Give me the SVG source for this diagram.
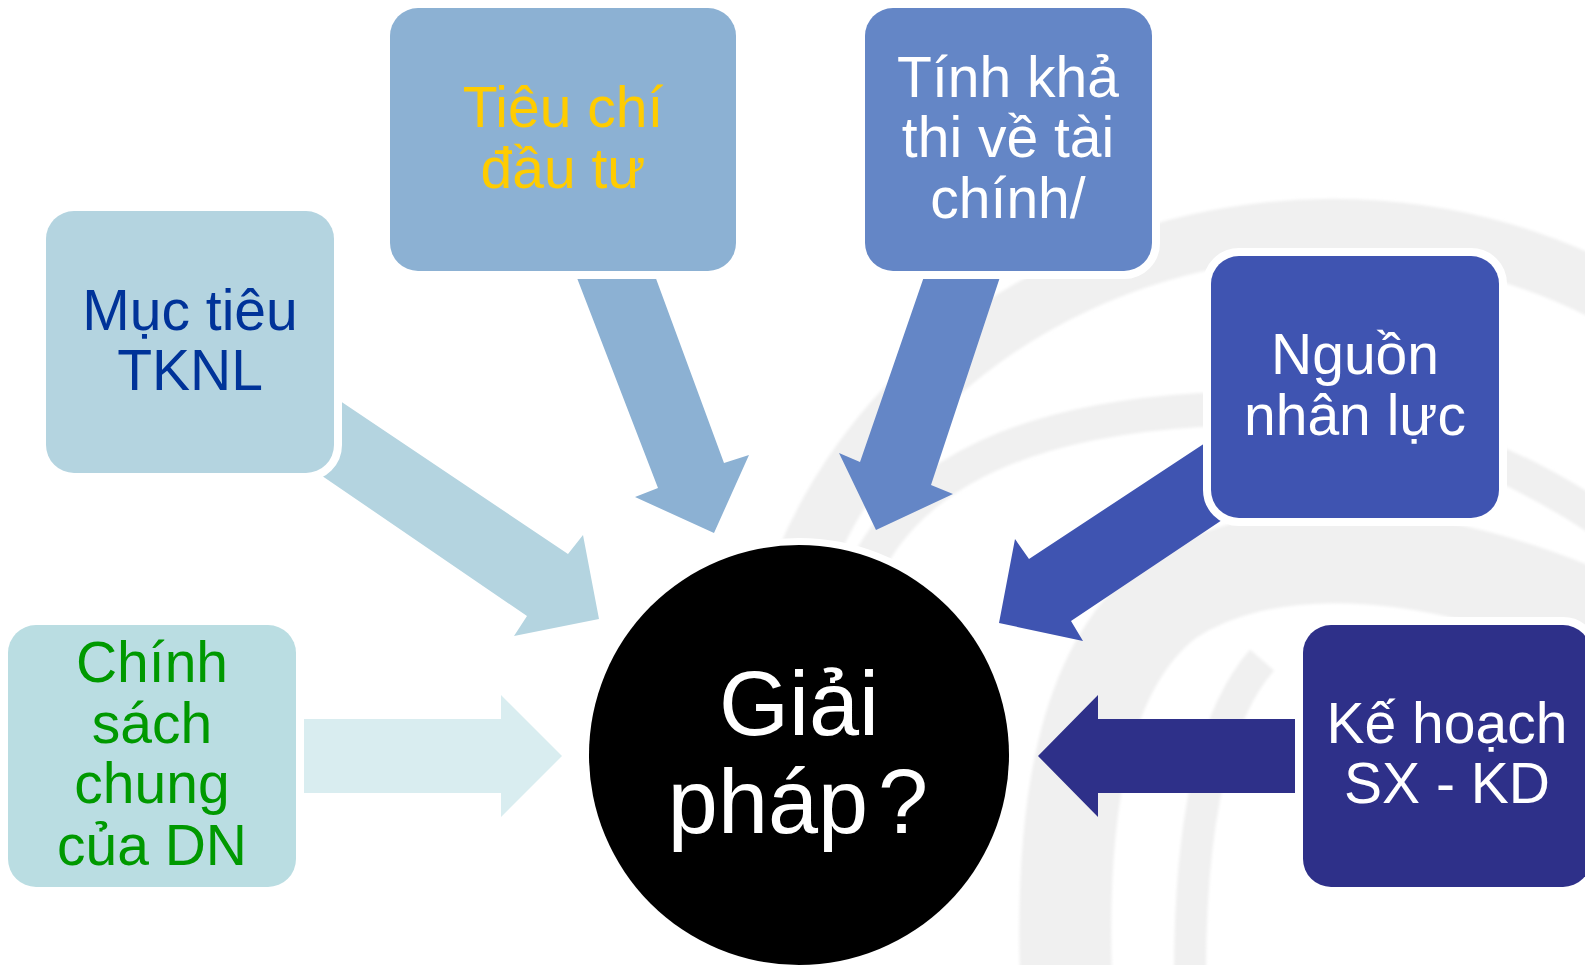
<svg xmlns="http://www.w3.org/2000/svg" width="1585" height="965" viewBox="0 0 1585 965">
  <style>
    .box { stroke: #ffffff; stroke-width: 16; paint-order: stroke; }
    .wm { fill: none; stroke: #f0f0f0; stroke-linecap: butt; }
    .lbl { font-family: "Liberation Sans", Arial, sans-serif; font-size: 57px; text-anchor: middle; }
    .hub { font-family: "Liberation Sans", Arial, sans-serif; font-size: 90px; text-anchor: middle; fill: #ffffff; }
  </style>
  <defs>
    <filter id="soft" x="-5%" y="-5%" width="110%" height="110%">
      <feGaussianBlur stdDeviation="1.5"/>
    </filter>
  </defs>
  <rect width="1585" height="965" fill="#ffffff"/>

  <!-- faint swirl watermark in the background -->
  <g id="watermark" filter="url(#soft)">
    <path class="wm" stroke-width="58" d="M 772 680 A 565 520 0 0 1 1600 290"/>
    <path class="wm" stroke-width="34" d="M 870 560 C 920 470 1030 420 1200 410 C 1350 402 1480 440 1600 520"/>
    <path class="wm" stroke-width="92" d="M 1066 975 C 1060 790 1090 660 1170 600 C 1260 540 1420 540 1600 620"/>
    <path class="wm" stroke-width="32" d="M 1190 975 C 1190 830 1210 720 1262 660"/>
  </g>

  <!-- block arrows pointing at the hub -->
  <g id="connectors">
    <polygon fill="#b4d4e0" points="300,374 568,554 583,535 599,619 514,636 527,616 290,454"/>
    <polygon fill="#8cb1d3" points="572,265 651,265 724,463 749,455 714,533 635,497 658,488"/>
    <polygon fill="#6486c6" points="928,265 1004,265 931,485 953,494 876,530 839,453 860,462"/>
    <polygon fill="#3f54b1" points="1240,420 1029,559 1015,539 999,623 1083,641 1071,621 1240,508"/>
    <polygon fill="#d9edf0" points="300,719 501,719 501,695 562,756 501,817 501,793 300,793"/>
    <polygon fill="#2e3089" points="1300,719 1098,719 1098,695 1038,756 1098,817 1098,793 1300,793"/>
  </g>

  <g id="node-muc-tieu">
    <rect class="box" x="46" y="211" width="288" height="262" rx="28" fill="#b4d4e0"/>
    <text class="lbl" fill="#003399"><tspan x="190" y="330">Mục tiêu</tspan><tspan x="190" y="390">TKNL</tspan></text>
  </g>

  <g id="node-tieu-chi">
    <rect class="box" x="390" y="8" width="346" height="263" rx="28" fill="#8cb1d3"/>
    <text class="lbl" fill="#ffcc00"><tspan x="563" y="127">Tiêu chí</tspan><tspan x="563" y="188">đầu tư</tspan></text>
  </g>

  <g id="node-kha-thi">
    <rect class="box" x="865" y="8" width="287" height="263" rx="28" fill="#6486c6"/>
    <text class="lbl" fill="#ffffff"><tspan x="1008" y="97">Tính khả</tspan><tspan x="1008" y="157">thi về tài</tspan><tspan x="1008" y="218">chính/</tspan></text>
  </g>

  <g id="node-nhan-luc">
    <rect class="box" x="1211" y="256" width="288" height="262" rx="28" fill="#3f54b1"/>
    <text class="lbl" fill="#ffffff"><tspan x="1355" y="374">Nguồn</tspan><tspan x="1355" y="435">nhân lực</tspan></text>
  </g>

  <g id="node-ke-hoach">
    <rect class="box" x="1303" y="625" width="288" height="262" rx="28" fill="#2e3089"/>
    <text class="lbl" fill="#ffffff"><tspan x="1447" y="743">Kế hoạch</tspan><tspan x="1447" y="803">SX - KD</tspan></text>
  </g>

  <g id="node-chinh-sach">
    <rect class="box" x="8" y="625" width="288" height="262" rx="28" fill="#badde2"/>
    <text class="lbl" fill="#009900"><tspan x="152" y="682">Chính</tspan><tspan x="152" y="743">sách</tspan><tspan x="152" y="803">chung</tspan><tspan x="152" y="865">của DN</tspan></text>
  </g>

  <g id="node-giai-phap">
    <circle cx="799" cy="755" r="210" fill="#000000" stroke="#ffffff" stroke-width="14" paint-order="stroke"/>
    <text class="hub"><tspan x="799" y="735">Giải</tspan></text>
    <text class="hub"><tspan x="798" y="833">pháp</tspan><tspan dx="10">?</tspan></text>
  </g>
</svg>
